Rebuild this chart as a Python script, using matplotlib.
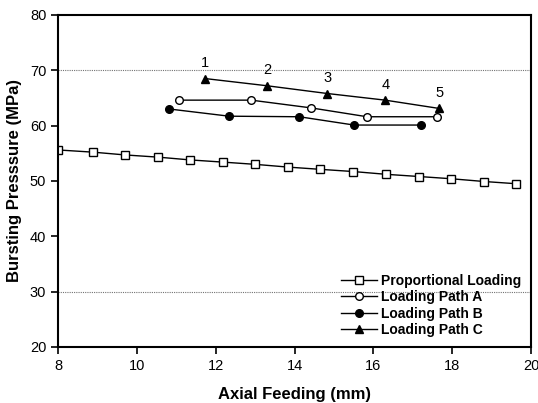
import matplotlib
matplotlib.use("Agg")
from matplotlib import pyplot as plt

plt.rcParams['font.family'] = ['Liberation Sans', 'DejaVu Sans']

# proportional loading
prop_x = [8.0, 8.89, 9.70, 10.54, 11.35, 12.19, 13.0, 13.84, 14.65, 15.49, 16.32, 17.16, 17.97, 18.81, 19.62]
prop_y = [55.6, 55.2, 54.7, 54.3, 53.8, 53.4, 53.0, 52.5, 52.1, 51.7, 51.2, 50.8, 50.4, 49.9, 49.5]

# loading paths
a_x = [11.07, 12.90, 14.42, 15.84, 17.62]
a_y = [64.6, 64.6, 63.2, 61.6, 61.6]
b_x = [10.82, 12.34, 14.12, 15.51, 17.21]
b_y = [63.0, 61.7, 61.6, 60.1, 60.1]
c_x = [11.73, 13.30, 14.83, 16.30, 17.67]
c_y = [68.5, 67.2, 65.8, 64.6, 63.1]
c_labels = ['1', '2', '3', '4', '5']

fig = plt.figure(figsize=(5.38, 4.03), dpi=100)
ax = fig.add_axes([0.108, 0.139, 0.879, 0.824])

for yy in (70, 30):
    ax.axhline(yy, color='0.45', lw=0.8, ls=(0, (1, 1)), zorder=0)

ax.plot(prop_x, prop_y, 'k-', marker='s', mfc='white', mec='k', ms=6, lw=1, label='Proportional Loading')
ax.plot(a_x, a_y, 'k-', marker='o', mfc='white', mec='k', ms=5.5, lw=1, label='Loading Path A')
ax.plot(b_x, b_y, 'k-', marker='o', mfc='k', mec='k', ms=5.5, lw=1, label='Loading Path B')
ax.plot(c_x, c_y, 'k-', marker='^', mfc='k', mec='k', ms=6, lw=1, label='Loading Path C')

for x, y, t in zip(c_x, c_y, c_labels):
    ax.annotate(t, (x, y), xytext=(0, 6), textcoords='offset points', ha='center', va='bottom', fontsize=10.5)

ax.set_xlim(8, 20)
ax.set_ylim(20, 80)
ax.set_xticks(range(8, 21, 2))
ax.set_yticks(range(20, 81, 10))
ax.tick_params(direction='out', length=5, width=1.2, labelsize=10.5)
for s in ax.spines.values():
    s.set_linewidth(1.5)

ax.set_xlabel('Axial Feeding (mm)', fontsize=12, fontweight='bold', labelpad=10)
ax.set_ylabel('Bursting Presssure (MPa)', fontsize=12, fontweight='bold', labelpad=6)

leg = ax.legend(loc='lower right', frameon=False, fontsize=10, handlelength=2.6,
                borderaxespad=0.3, labelspacing=0.18, handletextpad=0.3)
for t in leg.get_texts():
    t.set_fontweight('bold')

fig.savefig('out.png', dpi=100)
